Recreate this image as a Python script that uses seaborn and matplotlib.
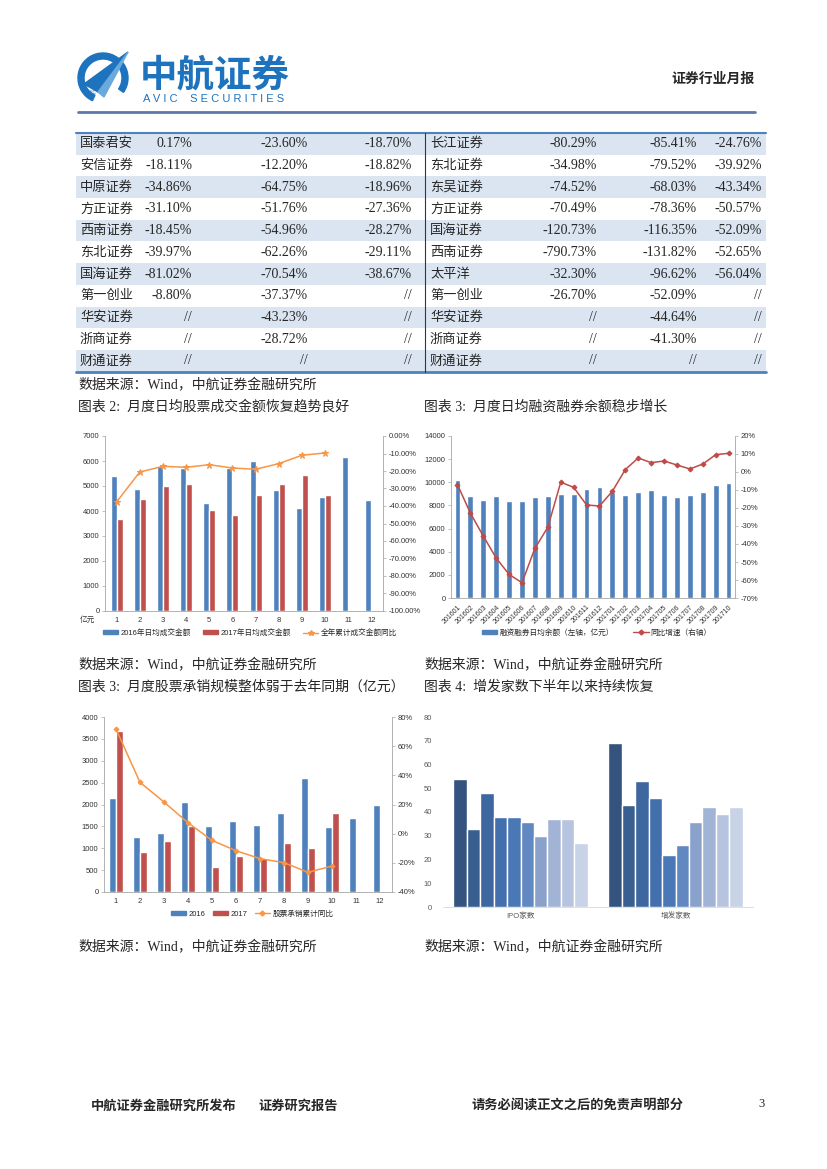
import matplotlib
matplotlib.use('Agg')
import matplotlib.pyplot as plt
from matplotlib.patches import Rectangle, Wedge, Polygon, Patch
from matplotlib.lines import Line2D
from matplotlib.ticker import FuncFormatter, MultipleLocator
import pandas as pd
import seaborn as sns

# ---- table data ----
left_names = ['国泰君安', '安信证券', '中原证券', '方正证券', '西南证券', '东北证券',
              '国海证券', '第一创业', '华安证券', '浙商证券', '财通证券']
left_c1 = ['0.17%', '-18.11%', '-34.86%', '-31.10%', '-18.45%', '-39.97%',
           '-81.02%', '-8.80%', '//', '//', '//']
left_c2 = ['-23.60%', '-12.20%', '-64.75%', '-51.76%', '-54.96%', '-62.26%',
           '-70.54%', '-37.37%', '-43.23%', '-28.72%', '//']
left_c3 = ['-18.70%', '-18.82%', '-18.96%', '-27.36%', '-28.27%', '-29.11%',
           '-38.67%', '//', '//', '//', '//']
right_names = ['长江证券', '东北证券', '东吴证券', '方正证券', '国海证券', '西南证券',
               '太平洋', '第一创业', '华安证券', '浙商证券', '财通证券']
right_c1 = ['-80.29%', '-34.98%', '-74.52%', '-70.49%', '-120.73%', '-790.73%',
            '-32.30%', '-26.70%', '//', '//', '//']
right_c2 = ['-85.41%', '-79.52%', '-68.03%', '-78.36%', '-116.35%', '-131.82%',
            '-96.62%', '-52.09%', '-44.64%', '-41.30%', '//']
right_c3 = ['-24.76%', '-39.92%', '-43.34%', '-50.57%', '-52.09%', '-52.65%',
            '-56.04%', '//', '//', '//', '//']

# ---- chart 2: daily average turnover ----
months = ['1', '2', '3', '4', '5', '6', '7', '8', '9', '10', '11', '12']
turnover_2016 = [5400, 4870, 5790, 5730, 4310, 5720, 6010, 4820, 4100, 4540, 6150, 4420]
turnover_2017 = [3700, 4460, 5000, 5070, 4020, 3830, 4620, 5100, 5460, 4650]
turnover_yoy = [-37.7, -20.6, -17.3, -17.9, -16.4, -18.3, -19.0, -15.8, -11.0, -9.7]

# ---- chart 3: margin balance ----
margin_months = ['201601', '201602', '201603', '201604', '201605', '201606', '201607',
                 '201608', '201609', '201610', '201611', '201612', '201701', '201702',
                 '201703', '201704', '201705', '201706', '201707', '201708', '201709',
                 '201710']
margin_balance = [10200, 8800, 8500, 8800, 8400, 8400, 8700, 8800, 9000, 9000, 9400,
                  9600, 9200, 8900, 9200, 9300, 8900, 8700, 8900, 9200, 9750, 9950]
margin_yoy = [-7.0, -22.8, -35.6, -47.8, -56.9, -61.5, -42.4, -30.7, -5.7, -8.5, -18.3,
              -18.9, -10.7, 1.3, 7.8, 5.2, 6.1, 3.9, 1.7, 4.4, 9.6, 10.4]

# ---- chart 4: underwriting ----
uw_2016 = [2150, 1260, 1340, 2060, 1510, 1620, 1530, 1810, 2600, 1490, 1690, 1980]
uw_2017 = [3690, 910, 1170, 1520, 580, 830, 780, 1110, 1010, 1810]
uw_yoy = [71.8, 35.2, 21.7, 7.5, -4.6, -11.7, -17.1, -19.9, -26.5, -22.2]

# ---- chart 5: issuers ----
issue_groups = ['IPO家数', '增发家数']
issue_series = ['1月', '2月', '3月', '4月', '5月', '6月', '7月', '8月', '9月', '10月']
ipo_counts = [54, 33, 48, 38, 38, 36, 30, 37, 37, 27]
seo_counts = [69, 43, 53, 46, 22, 26, 36, 42, 39, 42]
issue_colors = ['#34547f', '#395e90', '#3e67a0', '#436fac', '#4a78b6', '#6188c0',
                '#8aa2cb', '#a2b4d6', '#b7c4df', '#c9d3e7']

BLUE = '#4f81bd'
RED = '#c0504d'
ORANGE = '#f79646'
W, H = 827, 1169

sns.set_style('white')
plt.rcParams['font.family'] = ['Liberation Sans', 'Noto Sans CJK SC']
plt.rcParams['axes.unicode_minus'] = False

SERIF = ['Liberation Serif', 'Noto Sans CJK SC']
CJK = ['Noto Sans CJK SC', 'DejaVu Sans']


def rect(x0, y0, x1, y1):
    return [x0 / W, 1 - y1 / H, (x1 - x0) / W, (y1 - y0) / H]


fig = plt.figure(figsize=(8.27, 11.69), dpi=100)
page = fig.add_axes([0, 0, 1, 1])
page.set_xlim(0, W)
page.set_ylim(H, 0)
page.axis('off')

# header
page.add_patch(Wedge((103, 78), 25, 115, 395, width=6, color='#1e73be'))
page.add_patch(Polygon([[84, 84], [128, 52], [98, 92]], closed=True, color='#1e73be'))
page.add_patch(Polygon([[98, 92], [128, 52], [104, 97]], closed=True, color='#6aa9dc'))
page.text(91, 93, 'AVIC', fontsize=3.5, color='#1e73be', ha='center', va='center')
page.text(140, 75, '中航证券', fontsize=27, fontweight='bold', color='#1e73be',
          family=CJK, va='center', ha='left')
page.text(143, 99, 'A V I C    S E C U R I T I E S', fontsize=8, color='#1e73be',
          va='center', ha='left')
page.text(755, 79, '证券行业月报', fontsize=10, fontweight='bold', family=CJK,
          ha='right', va='center')
page.plot([78, 755], [112, 112], color='#5b7aa6', lw=2)

# table
row_h = 21.7
top = 133
for i in range(len(left_names)):
    yc = top + row_h * (i + 0.5)
    if i % 2 == 0:
        page.add_patch(Rectangle((76, top + row_h * i), 690, row_h, color='#dbe5f1', lw=0))
    page.text(80, yc, left_names[i], fontsize=9.5, family=CJK, va='center')
    page.text(430, yc, right_names[i], fontsize=9.5, family=CJK, va='center')
    for xr, vals in [(192, left_c1), (308, left_c2), (412, left_c3),
                     (597, right_c1), (697, right_c2), (762, right_c3)]:
        page.text(xr, yc, vals[i], fontsize=10, family=SERIF, ha='right', va='center')
page.plot([76, 766], [top, top], color='#4f81bd', lw=1.5)
page.plot([76, 766], [top + row_h * 11, top + row_h * 11], color='#4f81bd', lw=2)
page.plot([425, 425], [top, top + row_h * 11], color='#1f3864', lw=0.8)

src = '数据来源：Wind，中航证券金融研究所'
page.text(78, 385, src, fontsize=10, family=SERIF, va='center')
page.text(78, 407, '图表 2:  月度日均股票成交金额恢复趋势良好', fontsize=10, family=SERIF, va='center')
page.text(424, 407, '图表 3:  月度日均融资融券余额稳步增长', fontsize=10, family=SERIF, va='center')
page.text(78, 665, src, fontsize=10, family=SERIF, va='center')
page.text(424, 665, src, fontsize=10, family=SERIF, va='center')
page.text(78, 687, '图表 3:  月度股票承销规模整体弱于去年同期（亿元）', fontsize=10, family=SERIF, va='center')
page.text(424, 687, '图表 4:  增发家数下半年以来持续恢复', fontsize=10, family=SERIF, va='center')
page.text(78, 947, src, fontsize=10, family=SERIF, va='center')
page.text(424, 947, src, fontsize=10, family=SERIF, va='center')

# footer
page.text(91, 1106, '中航证券金融研究所发布', fontsize=9.5, fontweight='bold', family=CJK, va='center')
page.text(258, 1106, '证券研究报告', fontsize=9.5, fontweight='bold', family=CJK, va='center')
page.text(471, 1106, '请务必阅读正文之后的免责声明部分', fontsize=9.5, fontweight='bold', family=CJK, va='center')
page.text(758, 1104, '3', fontsize=9, family=SERIF, va='center')


def style_axis(ax, labelsize=5.5):
    for s in ['top', 'right']:
        ax.spines[s].set_visible(False)
    for s in ['left', 'bottom']:
        ax.spines[s].set_color('#a6a6a6')
        ax.spines[s].set_linewidth(0.6)
    ax.tick_params(axis='both', labelsize=labelsize, colors='#333333', length=2, width=0.5,
                   color='#a6a6a6', pad=2)
    ax.set_xlabel('')
    ax.set_ylabel('')


def style_twin(ax, labelsize=5.5):
    for s in ['top', 'left', 'bottom']:
        ax.spines[s].set_visible(False)
    ax.spines['right'].set_color('#a6a6a6')
    ax.spines['right'].set_linewidth(0.6)
    ax.tick_params(axis='y', labelsize=labelsize, colors='#333333', length=2, width=0.5,
                   color='#a6a6a6', pad=2)
    ax.set_ylabel('')


LEG = dict(frameon=False, fontsize=5.5, handlelength=2.0, handleheight=0.5, handletextpad=0.3)

# ---- chart: turnover ----
s16 = '2016年日均成交金额'
s17 = '2017年日均成交金额'
df1 = pd.DataFrame({'月': months + months[:len(turnover_2017)],
                    '系列': [s16] * len(turnover_2016) + [s17] * len(turnover_2017),
                    '金额': turnover_2016 + turnover_2017})
ax1 = fig.add_axes(rect(105, 436, 383, 611))
sns.barplot(data=df1, x='月', y='金额', hue='系列', order=months, hue_order=[s16, s17],
            palette=[BLUE, RED], saturation=1, width=0.52, legend=False, ax=ax1)
ax1.set_ylim(0, 7000)
ax1.yaxis.set_major_locator(MultipleLocator(1000))
style_axis(ax1)
ax1b = ax1.twinx()
sns.lineplot(x=list(range(len(turnover_yoy))), y=turnover_yoy, ax=ax1b, color=ORANGE,
             lw=1.1, marker='*', markersize=5, markeredgecolor=ORANGE)
ax1b.set_ylim(-100, 0)
ax1b.yaxis.set_major_locator(MultipleLocator(10))
ax1b.yaxis.set_major_formatter(FuncFormatter(lambda v, p: f'{v:.2f}%'))
style_twin(ax1b)
ax1.set_xlim(-0.5, 11.5)
page.text(87, 620, '亿元', fontsize=5.5, color='#333333', family=CJK, va='center', ha='center')
fig.legend(handles=[Patch(color=BLUE, label=s16), Patch(color=RED, label=s17),
                    Line2D([], [], color=ORANGE, marker='*', ms=4, lw=1, label='全年累计成交金额同比')],
           loc='center', bbox_to_anchor=(250 / W, 1 - 633 / H), ncol=3, columnspacing=1.6, **LEG)

# ---- chart: margin balance ----
df2 = pd.DataFrame({'月份': margin_months, '余额': margin_balance})
ax2 = fig.add_axes(rect(451, 436, 735, 598))
sns.barplot(data=df2, x='月份', y='余额', color=BLUE, saturation=1, width=0.45, ax=ax2)
ax2.set_ylim(0, 14000)
ax2.yaxis.set_major_locator(MultipleLocator(2000))
style_axis(ax2)
ax2.tick_params(axis='x', labelsize=5)
for lab in ax2.get_xticklabels():
    lab.set_rotation(45)
    lab.set_ha('right')
    lab.set_rotation_mode('anchor')
ax2b = ax2.twinx()
sns.lineplot(x=list(range(len(margin_yoy))), y=margin_yoy, ax=ax2b, color='#be4b48',
             lw=1.1, marker='D', markersize=2.5, markeredgecolor='#be4b48')
ax2b.set_ylim(-70, 20)
ax2b.yaxis.set_major_locator(MultipleLocator(10))
ax2b.yaxis.set_major_formatter(FuncFormatter(lambda v, p: f'{v:.0f}%'))
style_twin(ax2b)
ax2.set_xlim(-0.5, len(margin_months) - 0.5)
fig.legend(handles=[Patch(color=BLUE, label='融资融券日均余额（左轴，亿元）'),
                    Line2D([], [], color='#be4b48', marker='D', ms=2.5, lw=1, label='同比增速（右轴）')],
           loc='center', bbox_to_anchor=(597 / W, 1 - 633 / H), ncol=2, columnspacing=2.5, **LEG)

# ---- chart: underwriting ----
df3 = pd.DataFrame({'月': months + months[:len(uw_2017)],
                    '系列': ['2016'] * len(uw_2016) + ['2017'] * len(uw_2017),
                    '金额': uw_2016 + uw_2017})
ax3 = fig.add_axes(rect(104, 717, 392, 892))
sns.barplot(data=df3, x='月', y='金额', hue='系列', order=months, hue_order=['2016', '2017'],
            palette=[BLUE, RED], saturation=1, width=0.56, legend=False, ax=ax3)
ax3.set_ylim(0, 4000)
ax3.yaxis.set_major_locator(MultipleLocator(500))
style_axis(ax3)
ax3b = ax3.twinx()
sns.lineplot(x=list(range(len(uw_yoy))), y=uw_yoy, ax=ax3b, color=ORANGE, lw=1.1,
             marker='D', markersize=2.5, markeredgecolor=ORANGE)
ax3b.set_ylim(-40, 80)
ax3b.yaxis.set_major_locator(MultipleLocator(20))
ax3b.yaxis.set_major_formatter(FuncFormatter(lambda v, p: f'{v:.0f}%'))
style_twin(ax3b)
ax3.set_xlim(-0.5, 11.5)
fig.legend(handles=[Patch(color=BLUE, label='2016'), Patch(color=RED, label='2017'),
                    Line2D([], [], color=ORANGE, marker='D', ms=2.5, lw=1, label='股票承销累计同比')],
           loc='center', bbox_to_anchor=(252 / W, 1 - 914 / H), ncol=3, columnspacing=1.0, **LEG)

# ---- chart: issuers ----
df4 = pd.DataFrame({'类别': [issue_groups[0]] * len(ipo_counts) + [issue_groups[1]] * len(seo_counts),
                    '序列': issue_series + issue_series,
                    '家数': ipo_counts + seo_counts})
ax4 = fig.add_axes(rect(443, 717, 753, 907))
sns.barplot(data=df4, x='类别', y='家数', hue='序列', hue_order=issue_series,
            palette=issue_colors, saturation=1, width=0.87, legend=False, ax=ax4)
ax4.set_ylim(0, 80)
ax4.set_xlim(-0.5, 1.5)
ax4.yaxis.set_major_locator(MultipleLocator(10))
style_axis(ax4, labelsize=5.5)
ax4.spines['left'].set_visible(False)
ax4.spines['bottom'].set_color('#d9d9d9')
ax4.tick_params(axis='y', colors='#595959', color='#d9d9d9', pad=6)
ax4.tick_params(axis='x', colors='#595959', length=0, pad=4)

fig.savefig('out.png', dpi=100)
